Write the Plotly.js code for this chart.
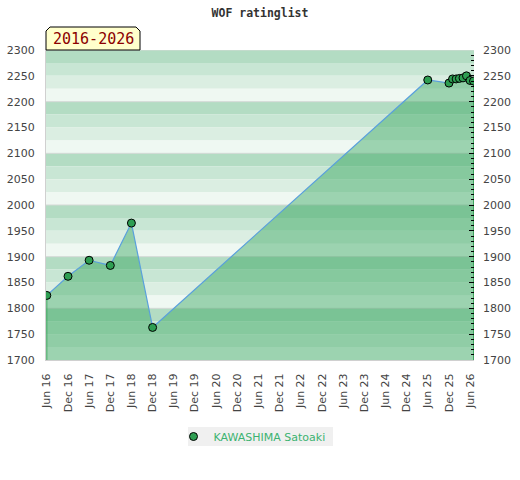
<!DOCTYPE html>
<html>
<head>
<meta charset="utf-8">
<script src="https://cdn.plot.ly/plotly-3.0.1.min.js"></script>
<style>html,body{margin:0;padding:0;background:#fff}#chart{width:520px;height:480px}</style>
</head>
<body>
<div id="chart"></div>
<script>
// ---- data ----
const playerName = "KAWASHIMA Satoaki";
const periodLabel = "2016-2026";
const chartTitle = "WOF ratinglist";
const dates = ["2016-06-01","2016-12-01","2017-06-01","2017-12-01","2018-06-01","2018-12-01",
  "2025-06-01","2025-12-01","2026-01-01","2026-02-01","2026-03-01","2026-04-01","2026-05-01","2026-06-01","2026-07-01"];
const ratings = [1825,1862,1893,1883,1965,1763,2242,2236,2244,2244,2245,2246,2250,2241,2240];
const tickDates = ["2016-06-01","2016-12-01","2017-06-01","2017-12-01","2018-06-01","2018-12-01",
  "2019-06-01","2019-12-01","2020-06-01","2020-12-01","2021-06-01","2021-12-01","2022-06-01","2022-12-01",
  "2023-06-01","2023-12-01","2024-06-01","2024-12-01","2025-06-01","2025-12-01","2026-06-01"];
const tickLabels = ["Jun 16","Dec 16","Jun 17","Dec 17","Jun 18","Dec 18","Jun 19","Dec 19","Jun 20","Dec 20",
  "Jun 21","Dec 21","Jun 22","Dec 22","Jun 23","Dec 23","Jun 24","Dec 24","Jun 25","Dec 25","Jun 26"];
const yTicks = [1700,1750,1800,1850,1900,1950,2000,2050,2100,2150,2200,2250,2300];

// ---- styling ----
const Y_MIN = 1700, Y_MAX = 2300;
const xRange = ["2016-05-25","2026-07-05"];
const bandColors = ["#b3dcc3","#c8e6d4","#dbeee2","#eff8f2"];
const shapes = [];
for (let top = Y_MAX, k = 0; top > Y_MIN; top -= 25, k++) {
  shapes.push({type:"rect", xref:"paper", yref:"y", x0:0, x1:1, y0:top-25, y1:top,
    fillcolor: bandColors[k % 4], line:{width:0}, layer:"below"});
}
for (let v = Y_MIN + 100; v <= Y_MAX; v += 100) {
  shapes.push({type:"line", xref:"paper", yref:"y", x0:0, x1:1, y0:v, y1:v,
    line:{color:"#d4d9d6", width:1}, layer:"below"});
}
// period tab (cut corners)
const pw = 428, ph = 310, tabW = 94/pw, tabH = 23/ph, cx = 4/pw, cy = 4/ph;
shapes.push({type:"path", xref:"paper", yref:"paper",
  path:`M 0 1 L 0 ${1+tabH-cy} L ${cx} ${1+tabH} L ${tabW-cx} ${1+tabH} L ${tabW} ${1+tabH-cy} L ${tabW} 1 Z`,
  fillcolor:"#ffffcc", line:{color:"#000", width:1}, layer:"above"});
// legend box
shapes.push({type:"rect", xref:"paper", yref:"paper", x0:142/pw, x1:287/pw, y0:-86/ph, y1:-67/ph,
  fillcolor:"#f0f0f0", line:{width:0}, layer:"below"});

const last = dates.length - 1;
const traces = [
  {x: dates, y: ratings, type:"scatter", mode:"lines", fill:"tozeroy",
   fillcolor:"rgba(46,162,88,0.43)", line:{color:"#5aa0dc", width:1.2}, showlegend:false, hoverinfo:"skip"},
  {x: [dates[0], dates[0]], y: [Y_MIN, ratings[0]], type:"scatter", mode:"lines",
   line:{color:"#3aa35a", width:1}, showlegend:false, hoverinfo:"skip"},
  {x: [dates[last], dates[last]], y: [Y_MIN, ratings[last]], type:"scatter", mode:"lines",
   line:{color:"#3aa35a", width:1}, showlegend:false, hoverinfo:"skip"},
  {x: dates, y: ratings, type:"scatter", mode:"markers", name: playerName,
   marker:{size:8, color:"#2e9e52", line:{color:"#000", width:1}}, yaxis:"y2"}
];

const tickFont = {family:"DejaVu Sans", size:11, color:"#444"};
const layout = {
  width:520, height:480,
  margin:{l:46, r:46, t:50, b:120},
  paper_bgcolor:"#fff", plot_bgcolor:"#fff",
  title:{text: chartTitle, x:0.5, xanchor:"center", y:1-13/480, yanchor:"middle",
    font:{family:"DejaVu Sans Mono", size:11.5, color:"#333", weight:"bold"}},
  xaxis:{type:"date", range:xRange, tickvals:tickDates, ticktext:tickLabels, tickangle:-90,
    tickfont:tickFont, showgrid:false, zeroline:false, showline:true, linecolor:"#d0d0d0",
    ticks:"", ticklabelstandoff:8},
  yaxis:{range:[Y_MIN,Y_MAX], tickvals:yTicks, tickfont:tickFont, showgrid:false, zeroline:false,
    showline:true, linecolor:"#d0d0d0", ticks:"", ticklabelstandoff:8},
  yaxis2:{range:[Y_MIN,Y_MAX], overlaying:"y", side:"right", tickvals:yTicks, tickfont:tickFont,
    showgrid:false, zeroline:false, ticks:"inside", ticklen:5, tickcolor:"#000", tickwidth:1,
    ticklabelstandoff:8,
    minor:{dtick:10, ticks:"inside", ticklen:3, tickcolor:"#000", tickwidth:1, showgrid:false}},
  shapes: shapes,
  annotations:[{xref:"paper", yref:"paper", x:tabW/2, y:1+tabH/2, xanchor:"center", yanchor:"middle",
    text: periodLabel, showarrow:false, font:{family:"DejaVu Sans Mono", size:15, color:"#8b0000"}}],
  showlegend:true,
  legend:{orientation:"h", x:0.5-8/pw, xanchor:"center", y:-76.5/ph, yanchor:"middle",
    bgcolor:"rgba(0,0,0,0)", font:{family:"DejaVu Sans", size:11, color:"#3cb371"}}
};
Plotly.newPlot("chart", traces, layout, {displayModeBar:false, staticPlot:true});
</script>
</body>
</html>
